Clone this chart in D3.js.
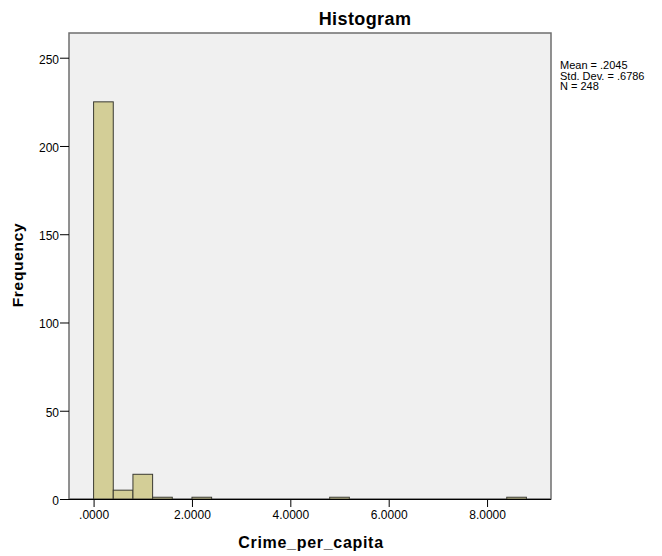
<!DOCTYPE html>
<html>
<head>
<meta charset="utf-8">
<script src="https://cdn.jsdelivr.net/npm/d3@7"></script>
<style>
    body { margin: 0; background: #fff; }
    svg text { font-family: "Liberation Sans", Arial, sans-serif; fill: #000; }
</style>
</head>
<body>
<div id="chart"></div>
<script>
// histogram bins (lower edge) and their frequencies
const binStarts = [0, 0.4, 0.8, 1.2, 2.0, 4.8, 8.4];
const binWidth = 0.4;
const counts = [225, 5, 14, 1, 1, 1, 1];

const xTicks = [0, 2, 4, 6, 8];
const xTickLabels = [".0000", "2.0000", "4.0000", "6.0000", "8.0000"];
const yTicks = [0, 50, 100, 150, 200, 250];
const statsLines = ["Mean = .2045", "Std. Dev. = .6786", "N = 248"];

const W = 662, H = 556;
const plot = { left: 69, right: 551, top: 33, bottom: 499 };

const svg = d3.select("#chart")
    .append("svg")
    .attr("width", W)
    .attr("height", H);

const x = d3.scaleLinear()
    .domain([-0.5, 9.3])
    .range([plot.left, plot.right]);

const y = d3.scaleLinear()
    .domain([0, 264])
    .range([plot.bottom, plot.top]);

// plot background
svg.append("rect")
    .attr("x", plot.left)
    .attr("y", plot.top)
    .attr("width", plot.right - plot.left)
    .attr("height", plot.bottom - plot.top)
    .attr("fill", "#f0f0f0")
    .attr("stroke", "#6e6e6e")
    .attr("stroke-width", 1.5);

// bars
const bins = binStarts.map((s, i) => ({ x0: s, x1: s + binWidth, n: counts[i] }));
svg.append("g")
    .selectAll("rect")
    .data(bins)
    .join("rect")
    .attr("x", d => x(d.x0))
    .attr("y", d => y(d.n))
    .attr("width", d => x(d.x1) - x(d.x0))
    .attr("height", d => y(0) - y(d.n))
    .attr("fill", "#d3ce97")
    .attr("stroke", "#3a3a32")
    .attr("stroke-width", 1);

// x axis
const xAxis = svg.append("g")
    .attr("transform", `translate(0,${plot.bottom})`)
    .call(d3.axisBottom(x)
        .tickValues(xTicks)
        .tickFormat((d, i) => xTickLabels[i])
        .tickSize(8)
        .tickPadding(3));
xAxis.select(".domain")
    .attr("stroke", "#000")
    .attr("d", `M${plot.left},0.5H${plot.right}`);
xAxis.selectAll(".tick line").attr("stroke", "#000");
xAxis.selectAll(".tick text")
    .style("font-size", "12px")
    .style("font-family", "'Liberation Sans', Arial, sans-serif")
    .attr("fill", "#000");

// y axis
const yAxis = svg.append("g")
    .attr("transform", `translate(${plot.left},0)`)
    .call(d3.axisLeft(y)
        .tickValues(yTicks)
        .tickSize(9)
        .tickPadding(1));
yAxis.select(".domain").remove();
yAxis.selectAll(".tick line").attr("stroke", "#000");
yAxis.selectAll(".tick text")
    .style("font-size", "12px")
    .style("font-family", "'Liberation Sans', Arial, sans-serif")
    .attr("dy", "0.45em")
    .attr("fill", "#000");

// titles
svg.append("text")
    .attr("x", 365)
    .attr("y", 25)
    .attr("text-anchor", "middle")
    .style("font-size", "18px")
    .style("font-weight", "bold")
    .style("letter-spacing", "0.4px")
    .text("Histogram");

svg.append("text")
    .attr("x", 311)
    .attr("y", 548)
    .attr("text-anchor", "middle")
    .style("font-size", "16px")
    .style("font-weight", "bold")
    .style("letter-spacing", "0.7px")
    .text("Crime_per_capita");

svg.append("text")
    .attr("transform", "translate(23,265) rotate(-90)")
    .attr("text-anchor", "middle")
    .style("font-size", "15.5px")
    .style("font-weight", "bold")
    .style("letter-spacing", "0.7px")
    .text("Frequency");

// summary statistics
svg.append("g")
    .selectAll("text")
    .data(statsLines)
    .join("text")
    .attr("x", 560)
    .attr("y", (d, i) => 69 + i * 10.5)
    .style("font-size", "11px")
    .text(d => d);
</script>
</body>
</html>
